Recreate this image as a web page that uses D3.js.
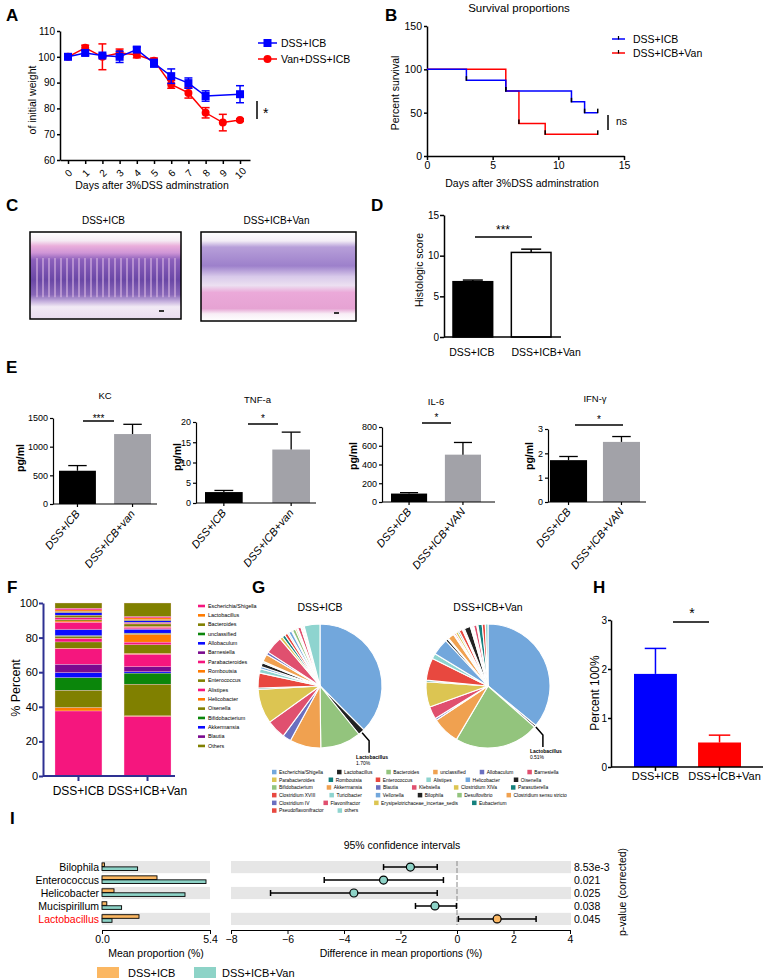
<!DOCTYPE html>
<html lang="en">
<head>
  <meta charset="UTF-8">
  <title>DSS+ICB with vancomycin</title>
  <style>
    body { margin: 0; background: #fff; }
    svg { display: block; }
  </style>
</head>
<body>
<div id="figure"></div>
<script src="https://d3js.org/d3.v7.min.js"></script>
<script>
// ---------- A: body weight ----------
const days = [0, 1, 2, 3, 4, 5, 6, 7, 8, 9, 10];
const weightIcb    = [100, 101.5, 100.5, 100, 102.8, 97.5, 92.5, 89.8, 84.8, null, 85.5];
const weightIcbErr = [0.5, 1, 0.5, 2.2, 1, 1.5, 2.8, 2, 2, null, 3.3];
const weightVan    = [100, 103.5, 100, 101.5, 100.8, 98.5, 89.3, 86, 78.3, 74.5, 75.5];
const weightVanErr = [0, 1, 5, 1.5, 1.2, 1, 1.5, 2, 2, 3.2, 0.5];
const weightTicks  = [60, 70, 80, 90, 100, 110];

// ---------- B: survival ----------
const survIcbTime = [0, 3, 6, 11, 12, 13];
const survIcb     = [100, 87.5, 75, 62.5, 50, 50];
const survVanTime = [0, 6, 7, 9, 13];
const survVan     = [100, 75, 37.5, 25, 25];
const survYTicks  = [0, 50, 100, 150];
const survXTicks  = [0, 5, 10, 15];

// ---------- C / D: histology ----------
const groups = ["DSS+ICB", "DSS+ICB+Van"];
const histoMean = [6.8, 10.4];
const histoErr  = [0.2, 0.4];
const histoTicks = [0, 5, 10, 15];

// ---------- E: cytokines ----------
const cytokines  = ["KC", "TNF-a", "IL-6", "IFN-\u03b3"];
const cytoGroups = [["DSS+ICB", "DSS+ICB+van"], ["DSS+ICB", "DSS+ICB+van"],
                    ["DSS+ICB", "DSS+ICB+VAN"], ["DSS+ICB", "DSS+ICB+VAN"]];
const cytoMean  = [[580, 1220], [2.7, 13.2], [90, 505], [1.72, 2.47]];
const cytoErr   = [[90, 170], [0.4, 4.3], [10, 130], [0.15, 0.22]];
const cytoTicks = [[0, 500, 1000, 1500], [0, 5, 10, 15, 20], [0, 200, 400, 600, 800], [0, 1, 2, 3]];
const cytoSig   = ["***", "*", "*", "*"];

// ---------- F: stacked genera ----------
const fGenera = ["Escherichia/Shigella", "Lactobacillus", "Bacteroides", "unclassified", "Allobaculum",
  "Barnesiella", "Parabacteroides", "Romboutsia", "Enterococcus", "Alistipes", "Helicobacter",
  "Oisenella", "Bifidobacterium", "Akkermansia", "Blautia", "Others"];
const fIcb = [37.6, 2.0, 10.0, 7.3, 2.9, 4.8, 8.9, 0.4, 3.6, 1.8, 0.4, 1.0, 0.5, 3.3, 0.4, 3.0];
const fVan = [34.5, 0.3, 18.3, 6.4, 0.8, 2.9, 7.2, 0.5, 5.0, 1.5, 4.5, 0.4, 0.3, 2.2, 0.3, 7.8];
// minor genera stacked between Blautia and Others (not named in the legend)
const fIcbMinor = [4.0, 0.7, 0.8, 1.2, 1.4, 1.5, 0.7, 0.8, 1.0];
const fVanMinor = [0.9, 0.4, 1.5, 0.5, 0.5, 0.9, 0.6, 1.0, 0.8];
const fTicks = [0, 20, 40, 60, 80, 100];

// ---------- G: pies ----------
const gGenera = ["Escherichia/Shigella", "Lactobacillus", "Bacteroides", "unclassified", "Allobaculum",
  "Barnesiella", "Parabacteroides", "Romboutsia", "Enterococcus", "Alistipes", "Helicobacter",
  "Oisenella", "Bifidobacterium", "Akkermansia", "Blautia", "Klebsiella", "Clostridium XIVa",
  "Parasutterella", "Clostridium XVIII", "Turicibacter", "Vellonella", "Bilophila", "Desulfovibrio",
  "Clostridium sensu stricto", "Clostridium IV", "Flavonifractor", "Erysipelotrichaceae_incertae_sedis",
  "Eubacterium", "Pseudoflavonifractor", "others"];
const pieIcb = [37.5, 1.70, 10.6, 8.1, 2.2, 5.0, 9.0, 0.4, 3.9, 1.1, 0.6, 1.0, 0.4, 2.0, 0.7, 4.6,
  0.8, 0.8, 0.8, 0.4, 0.8, 0.3, 0.8, 0.4, 0.3, 0.8, 0.3, 0.3, 0.3, 4.1];
const pieVan = [36.0, 0.51, 22.0, 7.2, 0.5, 3.3, 6.6, 0.4, 5.8, 1.4, 4.4, 0.6, 0.3, 1.6, 0.3, 0.4,
  0.6, 0.4, 0.9, 0.3, 0.3, 1.6, 0.3, 0.3, 0.3, 0.8, 0.3, 1.1, 0.8, 0.7];

// ---------- H: Lactobacillus ----------
const lactoMean = [1.9, 0.5];
const lactoErr  = [0.52, 0.15];
const lactoTicks = [0, 1, 2, 3];

// ---------- I: STAMP ----------
const taxa = ["Bilophila", "Enterococcus", "Helicobacter", "Mucispirillum", "Lactobacillus"];
const propIcb = [0.12, 2.75, 0.6, 0.24, 1.85];
const propVan = [1.78, 5.2, 4.15, 0.98, 0.5];
const diffMean = [-1.65, -2.6, -3.65, -0.78, 1.42];
const diffLo   = [-2.6, -4.7, -6.6, -1.47, 0.05];
const diffHi   = [-0.7, -0.48, -0.7, -0.02, 2.8];
const pValues  = ["8.53e-3", "0.021", "0.025", "0.038", "0.045"];
const diffTicks = [-8, -6, -4, -2, 0, 2, 4];

const FONT = "Arial, 'Liberation Sans', sans-serif";
const NARROW = "'Liberation Sans Narrow', 'Arial Narrow', Arial, sans-serif";
const BLUE = "#0000ff", RED = "#ff0000";
const plain = d => d;

const svg = d3.select("#figure").append("svg")
  .attr("width", 765).attr("height", 980)
  .attr("font-family", FONT);

function styleAxis(g, size, width, family, color) {
  const c = color || "#000";
  g.attr("font-family", null).attr("font-size", null);
  g.select(".domain").attr("stroke", c).attr("stroke-width", width);
  g.selectAll(".tick line").attr("stroke", c).attr("stroke-width", width);
  g.selectAll(".tick text").attr("fill", "#000")
    .style("font-size", size + "px").style("font-family", family || FONT);
}

function label(t, x, y, size, opts) {
  const o = opts || {};
  const el = svg.append("text").attr("x", x).attr("y", y)
    .attr("font-size", size).attr("text-anchor", o.anchor || "start")
    .attr("font-weight", o.weight || null)
    .attr("font-style", o.style || null)
    .attr("fill", o.fill || "#000")
    .text(t);
  if (o.family) el.attr("font-family", o.family);
  if (o.rotate) el.attr("transform", `rotate(${o.rotate},${x},${y})`);
  return el;
}

function panelLetter(t, x, y) { label(t, x, y, 17, { weight: "bold" }); }

// error bar: vertical from lo to hi with a cap at hi
function vErr(g, x, yLo, yHi, w, color, sw) {
  g.append("line").attr("x1", x).attr("x2", x).attr("y1", yLo).attr("y2", yHi)
    .attr("stroke", color).attr("stroke-width", sw);
  g.append("line").attr("x1", x - w / 2).attr("x2", x + w / 2).attr("y1", yHi).attr("y2", yHi)
    .attr("stroke", color).attr("stroke-width", sw);
}

// ================= A =================
{
  panelLetter("A", 6, 21);
  const x = d3.scaleLinear().domain([-0.465, 10.58]).range([60, 250]);
  const y = d3.scaleLinear().domain([60, 110]).range([160, 31]);
  const g = svg.append("g");
  g.append("g").attr("transform", "translate(60,0)")
    .call(d3.axisLeft(y).tickValues(weightTicks).tickSize(3).tickPadding(2).tickSizeOuter(0))
    .call(styleAxis, 10, 1.5);
  g.append("g").attr("transform", "translate(0,160)")
    .call(d3.axisBottom(x).tickValues(days).tickSize(4).tickSizeOuter(0))
    .call(styleAxis, 10, 1.5)
    .selectAll(".tick text")
    .attr("y", 0).attr("dy", "0.35em").attr("text-anchor", "middle")
    .attr("transform", "translate(0,13) rotate(-45)");

  const series = [
    { v: weightVan, e: weightVanErr, color: RED, shape: "circle" },
    { v: weightIcb, e: weightIcbErr, color: BLUE, shape: "square" }
  ];
  const line = d3.line().x(d => x(d.day)).y(d => y(d.v));
  series.forEach(s => {
    const pts = days.map((d, i) => ({ day: d, v: s.v[i], e: s.e[i] })).filter(p => p.v != null);
    g.append("path").attr("d", line(pts)).attr("fill", "none")
      .attr("stroke", s.color).attr("stroke-width", 1.5);
    pts.forEach(p => {
      if (p.e > 0) {
        vErr(g, x(p.day), y(p.v), y(p.v + p.e), 8, s.color, 1.5);
        vErr(g, x(p.day), y(p.v), y(p.v - p.e), 8, s.color, 1.5);
      }
    });
    if (s.shape === "circle") {
      g.selectAll(null).data(pts).join("circle")
        .attr("cx", p => x(p.day)).attr("cy", p => y(p.v)).attr("r", 4).attr("fill", s.color);
    } else {
      g.selectAll(null).data(pts).join("rect")
        .attr("x", p => x(p.day) - 4).attr("y", p => y(p.v) - 4)
        .attr("width", 8).attr("height", 8).attr("fill", s.color);
    }
  });
  // legend
  [["DSS+ICB", BLUE, "square", 43], ["Van+DSS+ICB", RED, "circle", 59]].forEach(([t, c, sh, ly]) => {
    g.append("line").attr("x1", 258).attr("x2", 277).attr("y1", ly).attr("y2", ly)
      .attr("stroke", c).attr("stroke-width", 1.5);
    if (sh === "square") g.append("rect").attr("x", 263.5).attr("y", ly - 4).attr("width", 8).attr("height", 8).attr("fill", c);
    else g.append("circle").attr("cx", 267.5).attr("cy", ly).attr("r", 4).attr("fill", c);
    label(t, 281, ly + 4, 10.5);
  });
  g.append("line").attr("x1", 257).attr("x2", 257).attr("y1", 101).attr("y2", 119)
    .attr("stroke", "#000").attr("stroke-width", 1.5);
  label("*", 263, 118, 14);
  label("of initial weight", 36, 100, 10.5, { anchor: "middle", rotate: -90 });
  label("Days after 3%DSS adminstration", 152, 189, 10.5, { anchor: "middle" });
}

// ================= B =================
{
  panelLetter("B", 385, 21);
  const x = d3.scaleLinear().domain([0, 15]).range([427, 624]);
  const y = d3.scaleLinear().domain([0, 150]).range([156, 26]);
  const g = svg.append("g");
  g.append("g").attr("transform", "translate(427,0)")
    .call(d3.axisLeft(y).tickValues(survYTicks).tickSize(3).tickPadding(2).tickSizeOuter(0))
    .call(styleAxis, 10.5, 1.5);
  g.append("g").attr("transform", "translate(0,156)")
    .call(d3.axisBottom(x).tickValues(survXTicks).tickSize(4).tickPadding(2).tickSizeOuter(0))
    .call(styleAxis, 10.5, 1.5);

  const step = d3.line().curve(d3.curveStepAfter).x(d => x(d[0])).y(d => y(d[1]));
  [[survVanTime, survVan, RED], [survIcbTime, survIcb, BLUE]].forEach(([t, v, c]) => {
    const pts = t.map((d, i) => [d, v[i]]);
    g.append("path").attr("d", step(pts)).attr("fill", "none").attr("stroke", c).attr("stroke-width", 1.5);
    pts.slice(1).forEach(p => {
      g.append("line").attr("x1", x(p[0])).attr("x2", x(p[0])).attr("y1", y(p[1]) + 0.5).attr("y2", y(p[1]) - 4)
        .attr("stroke", "#000").attr("stroke-width", 1.5);
    });
  });
  [["DSS+ICB", BLUE, 39], ["DSS+ICB+Van", RED, 53]].forEach(([t, c, ly]) => {
    g.append("line").attr("x1", 612).attr("x2", 625).attr("y1", ly).attr("y2", ly).attr("stroke", c).attr("stroke-width", 1.5);
    g.append("line").attr("x1", 618.5).attr("x2", 618.5).attr("y1", ly - 3).attr("y2", ly + 0.5).attr("stroke", "#000").attr("stroke-width", 1.2);
    label(t, 633, ly + 4, 10.5);
  });
  g.append("line").attr("x1", 608).attr("x2", 608).attr("y1", 115).attr("y2", 130)
    .attr("stroke", "#000").attr("stroke-width", 1.5);
  label("ns", 616, 125, 10.5);
  label("Survival proportions", 519, 12, 11.5, { anchor: "middle" });
  label("Percent survival", 399, 93, 10.5, { anchor: "middle", rotate: -90 });
  label("Days after 3%DSS adminstration", 522, 187, 10.5, { anchor: "middle" });
}

// ================= C (micrographs) =================
{
  panelLetter("C", 6, 211);
  const defs = svg.append("defs");
  const g1 = defs.append("linearGradient").attr("id", "histo1").attr("x1", 0).attr("x2", 0).attr("y1", 0).attr("y2", 1);
  [[0, "#ffffff"], [0.1, "#f5eaf3"], [0.16, "#eaaedb"], [0.24, "#cf95d6"], [0.32, "#8b5fbb"],
   [0.55, "#6a47a6"], [0.72, "#8867b8"], [0.8, "#c7b2de"], [0.86, "#f2eaf5"], [1, "#e9dcef"]]
    .forEach(([o, c]) => g1.append("stop").attr("offset", o).attr("stop-color", c));
  const g2 = defs.append("linearGradient").attr("id", "histo2").attr("x1", 0).attr("x2", 0).attr("y1", 0).attr("y2", 1);
  [[0, "#ffffff"], [0.1, "#f3edf6"], [0.17, "#b79fd9"], [0.38, "#9d80cb"], [0.5, "#d8c9ea"],
   [0.6, "#ece0f1"], [0.68, "#eba9d9"], [0.86, "#e6a3d3"], [0.92, "#f8eef6"], [1, "#ffffff"]]
    .forEach(([o, c]) => g2.append("stop").attr("offset", o).attr("stop-color", c));
  const crypts = defs.append("pattern").attr("id", "crypts").attr("width", 6).attr("height", 40)
    .attr("patternUnits", "userSpaceOnUse");
  crypts.append("rect").attr("x", 0).attr("width", 2).attr("height", 40).attr("fill", "#e8c6ea").attr("opacity", 0.5);

  const boxes = [[30, 232, 151, 87, "histo1", "DSS+ICB"], [201, 232, 155, 89, "histo2", "DSS+ICB+Van"]];
  boxes.forEach(([bx, by, bw, bh, grad, t]) => {
    svg.append("rect").attr("x", bx).attr("y", by).attr("width", bw).attr("height", bh).attr("fill", `url(#${grad})`);
    if (grad === "histo1") {
      svg.append("rect").attr("x", bx + 2).attr("y", by + bh * 0.3).attr("width", bw - 4).attr("height", bh * 0.45)
        .attr("fill", "url(#crypts)");
    }
    svg.append("rect").attr("x", bx).attr("y", by).attr("width", bw).attr("height", bh)
      .attr("fill", "none").attr("stroke", "#000").attr("stroke-width", 1.5);
    svg.append("rect").attr("x", bx + bw - 22).attr("y", by + bh - 9).attr("width", 5).attr("height", 2).attr("fill", "#333");
    label(t, bx + bw / 2 - 2, 224, 10, { anchor: "middle", family: NARROW });
  });
}

// ================= D =================
{
  panelLetter("D", 371, 211);
  const y = d3.scaleLinear().domain([0, 15]).range([337, 215]);
  const x = d3.scaleBand().domain(groups).range([453, 551]).paddingInner(0.32);
  const g = svg.append("g");
  g.selectAll(null).data(groups).join("rect")
    .attr("x", d => x(d)).attr("width", x.bandwidth())
    .attr("y", (d, i) => y(histoMean[i])).attr("height", (d, i) => y(0) - y(histoMean[i]))
    .attr("fill", (d, i) => i ? "#fff" : "#000").attr("stroke", "#000").attr("stroke-width", 1.5);
  groups.forEach((d, i) => vErr(g, x(d) + x.bandwidth() / 2, y(histoMean[i]), y(histoMean[i] + histoErr[i]), 20, "#000", 1.5));
  g.append("g").attr("transform", "translate(444,0)")
    .call(d3.axisLeft(y).tickValues(histoTicks).tickFormat(plain).tickSize(4).tickPadding(1).tickSizeOuter(0))
    .call(styleAxis, 10, 1.5, NARROW);
  g.append("line").attr("x1", 444).attr("x2", 561).attr("y1", 337).attr("y2", 337).attr("stroke", "#000").attr("stroke-width", 1.5);
  groups.forEach((d, i) => label(d, x(d) + x.bandwidth() / 2 + (i ? 15 : -1), 356, 10.5, { anchor: "middle", family: NARROW }));
  g.append("line").attr("x1", 475).attr("x2", 532).attr("y1", 237).attr("y2", 237).attr("stroke", "#000").attr("stroke-width", 1.5);
  label("***", 503, 234, 12, { anchor: "middle" });
  label("Histologic score", 423, 270, 10.5, { anchor: "middle", rotate: -90, family: NARROW });
}

// ================= E =================
{
  panelLetter("E", 6, 373);
  const layout = [
    { ax: 53,  right: 157, b0: 59,  b1: 151, pad: 0.33, y0: 504, yTop: 418, titleY: 399, sig: [83, 114],  sigY: 421, ylab: 24 },
    { ax: 196, right: 316, b0: 205, b1: 310, pad: 0.44, y0: 503, yTop: 422, titleY: 403, sig: [248, 278], sigY: 424, ylab: 181 },
    { ax: 382, right: 495, b0: 391, b1: 481, pad: 0.33, y0: 502, yTop: 427, titleY: 405, sig: [422, 451], sigY: 423, ylab: 357 },
    { ax: 548, right: 646, b0: 550, b1: 640, pad: 0.30, y0: 502, yTop: 429, titleY: 402, sig: [575, 623], sigY: 425, ylab: 533 }
  ];
  cytokines.forEach((name, k) => {
    const L = layout[k];
    const ticks = cytoTicks[k];
    const y = d3.scaleLinear().domain([0, ticks[ticks.length - 1]]).range([L.y0, L.yTop]);
    const x = d3.scaleBand().domain(cytoGroups[k]).range([L.b0, L.b1]).paddingInner(L.pad);
    const g = svg.append("g");
    g.selectAll(null).data(cytoGroups[k]).join("rect")
      .attr("x", d => x(d)).attr("width", x.bandwidth())
      .attr("y", (d, i) => y(cytoMean[k][i])).attr("height", (d, i) => L.y0 - y(cytoMean[k][i]))
      .attr("fill", (d, i) => i ? "#a2a2a8" : "#000");
    cytoGroups[k].forEach((d, i) => vErr(g, x(d) + x.bandwidth() / 2, y(cytoMean[k][i]),
      y(cytoMean[k][i] + cytoErr[k][i]), x.bandwidth() / 2, "#000", 1.3));
    g.append("g").attr("transform", `translate(${L.ax},0)`)
      .call(d3.axisLeft(y).tickValues(ticks).tickFormat(plain).tickSize(3).tickPadding(2).tickSizeOuter(0))
      .call(styleAxis, 9, 1.2, NARROW);
    g.append("line").attr("x1", L.ax).attr("x2", L.right).attr("y1", L.y0).attr("y2", L.y0)
      .attr("stroke", "#000").attr("stroke-width", 1.2);
    cytoGroups[k].forEach(d => {
      const cx = x(d) + x.bandwidth() / 2;
      g.append("line").attr("x1", cx).attr("x2", cx).attr("y1", L.y0).attr("y2", L.y0 + 3)
        .attr("stroke", "#000").attr("stroke-width", 1.2);
      label(d, cx + 3, L.y0 + 10, 11, { anchor: "end", style: "italic", rotate: -50, family: NARROW });
    });
    g.append("line").attr("x1", L.sig[0]).attr("x2", L.sig[1]).attr("y1", L.sigY).attr("y2", L.sigY)
      .attr("stroke", "#000").attr("stroke-width", 1.5);
    label(cytoSig[k], (L.sig[0] + L.sig[1]) / 2, L.sigY - (k ? 2 : -1), 10, { anchor: "middle" });
    label(name, (L.b0 + L.b1) / 2, L.titleY, 9.5, { anchor: "middle", family: NARROW });
    label("pg/ml", L.ylab, L.y0 - 46, 10.5, { anchor: "middle", rotate: -90, weight: "bold", family: NARROW });
  });
}

// ================= F =================
{
  panelLetter("F", 7, 593);
  const NAVY = "#2e3192";
  const pink = "#f5167e", orange = "#ff7b00", olive = "#808000", green = "#0b860b", blue = "#0a0aff", purple = "#7b0a8f";
  const fColors = [pink, orange, olive, green, blue, purple, pink, orange, olive, pink, orange, olive, green, blue, purple, olive];
  const fMinorColors = [pink, orange, olive, pink, olive, blue, olive, orange, pink];
  const keys = d3.range(15).map(i => "g" + i).concat(fIcbMinor.map((d, i) => "m" + i), ["g15"]);
  const rows = [[fIcb, fIcbMinor], [fVan, fVanMinor]].map(([main, minor], gi) => {
    const r = { group: groups[gi] };
    main.forEach((v, i) => { r["g" + i] = v; });
    minor.forEach((v, i) => { r["m" + i] = v; });
    return r;
  });
  const colorOf = k => k[0] === "g" ? fColors[+k.slice(1)] : fMinorColors[+k.slice(1)];
  const stacked = d3.stack().keys(keys)(rows);
  const y = d3.scaleLinear().domain([0, 100]).range([776, 603]);
  const x = d3.scaleBand().domain(groups).range([55, 171]).paddingInner(0.32);
  const g = svg.append("g");
  g.selectAll("g.layer").data(stacked).join("g").attr("class", "layer")
    .attr("fill", d => colorOf(d.key))
    .selectAll("rect").data(d => d).join("rect")
    .attr("x", d => x(d.data.group)).attr("width", x.bandwidth())
    .attr("y", d => y(d[1])).attr("height", d => y(d[0]) - y(d[1]))
    .attr("stroke", "#fbd3e6").attr("stroke-width", 0.3);
  g.append("g").attr("transform", "translate(43,0)")
    .call(d3.axisLeft(y).tickValues(fTicks).tickSize(4).tickPadding(1).tickSizeOuter(0))
    .call(styleAxis, 11, 2, FONT, NAVY);
  const xAxis = g.append("g").attr("transform", "translate(0,776)")
    .call(d3.axisBottom(x).tickSize(5).tickSizeOuter(0).tickFormat(""))
    .call(styleAxis, 11, 2, FONT, NAVY);
  xAxis.select(".domain").attr("d", "M43,0H175");
  groups.forEach(d => label(d, x(d) + x.bandwidth() / 2, 795, 12, { anchor: "middle" }));
  label("% Percent", 20, 688, 12.5, { anchor: "middle", rotate: -90 });
  // legend
  fGenera.forEach((name, i) => {
    const ly = 606 + i * 9.33;
    g.append("rect").attr("x", 198).attr("y", ly - 1.3).attr("width", 7).attr("height", 2.6).attr("fill", fColors[i]);
    label(name, 208, ly + 1.8, 5.4, { family: NARROW });
  });
}

// ================= G =================
{
  panelLetter("G", 252, 593);
  const gColors = ["#72a7dc", "#222222", "#93c47d", "#f0a150", "#6a6fc0",
                   "#e0506f", "#dcc552", "#14807d", "#e8483f", "#8ed4cf"];
  const R = 62;
  const pie = d3.pie().sort(null).value(d => d);
  const arc = d3.arc().innerRadius(0).outerRadius(R);
  [[pieIcb, 320, groups[0]], [pieVan, 488, groups[1]]].forEach(([vals, cx, title]) => {
    const arcs = pie(vals);
    const g = svg.append("g").attr("transform", `translate(${cx},686)`);
    g.selectAll("path").data(arcs).join("path")
      .attr("d", arc).attr("fill", (d, i) => gColors[i % gColors.length])
      .attr("stroke", "#fff").attr("stroke-width", 1.1).attr("stroke-linejoin", "round");
    label(title, cx, 611, 10.5, { anchor: "middle" });
    // Lactobacillus call-out
    const a = arcs[1];
    const mid = (a.startAngle + a.endAngle) / 2;
    const sx = cx + Math.sin(mid) * (R + 1), sy = 686 - Math.cos(mid) * (R + 1);
    const bx = sx + 7, by = sy + 8, ey = by + 12;
    svg.append("path").attr("d", `M${sx},${sy}L${bx},${by}L${bx},${ey}`)
      .attr("fill", "none").attr("stroke", "#000").attr("stroke-width", 1.5);
    label(gGenera[1], bx - 13, ey + 6, 5, { weight: "bold" });
    label(vals[1].toFixed(2) + "%", bx - 13, ey + 12, 5);
  });
  // legend, flowed in rows
  const rowSizes = [6, 6, 6, 6, 4, 2];
  let idx = 0;
  rowSizes.forEach((n, r) => {
    let lx = 272;
    const ly = 772 + r * 7.7;
    for (let j = 0; j < n; j++, idx++) {
      svg.append("rect").attr("x", lx).attr("y", ly - 2.2).attr("width", 4.5).attr("height", 4.5)
        .attr("fill", gColors[idx % gColors.length]);
      const t = label(gGenera[idx], lx + 7, ly + 1.8, 4.9);
      lx += 7 + t.node().getComputedTextLength() + 14;
    }
  });
}

// ================= H =================
{
  panelLetter("H", 593, 593);
  const y = d3.scaleLinear().domain([0, 3]).range([767, 620]);
  const x = d3.scaleBand().domain(groups).range([634, 741]).paddingInner(0.33);
  const g = svg.append("g");
  const colors = [BLUE, RED];
  g.selectAll(null).data(groups).join("rect")
    .attr("x", d => x(d)).attr("width", x.bandwidth())
    .attr("y", (d, i) => y(lactoMean[i])).attr("height", (d, i) => y(0) - y(lactoMean[i]))
    .attr("fill", (d, i) => colors[i]);
  groups.forEach((d, i) => vErr(g, x(d) + x.bandwidth() / 2, y(lactoMean[i]), y(lactoMean[i] + lactoErr[i]),
    x.bandwidth() / 2, colors[i], 1.5));
  g.append("g").attr("transform", "translate(611,0)")
    .call(d3.axisLeft(y).tickValues(lactoTicks).tickFormat(plain).tickSize(3).tickPadding(1).tickSizeOuter(0))
    .call(styleAxis, 10, 1.5, NARROW);
  const xAxis = g.append("g").attr("transform", "translate(0,767)")
    .call(d3.axisBottom(x).tickSize(4).tickSizeOuter(0).tickFormat(""))
    .call(styleAxis, 10, 1.5);
  xAxis.select(".domain").attr("d", "M611,0H763");
  groups.forEach((d, i) => label(d, x(d) + x.bandwidth() / 2 + (i ? 5 : 0), 780, 11, { anchor: "middle" }));
  g.append("line").attr("x1", 673).attr("x2", 709).attr("y1", 622).attr("y2", 622).attr("stroke", "#000").attr("stroke-width", 1.5);
  label("*", 692, 618, 14, { anchor: "middle" });
  label("Percent 100%", 599, 693, 12, { anchor: "middle", rotate: -90 });
}

// ================= I =================
{
  label("I", 10, 824, 17, { weight: "bold" });
  const ORANGE = "#fbb762", TEAL = "#8dd3c7";
  const rows = d3.scaleBand().domain(taxa).range([861, 925]).paddingInner(0.06);
  const xl = d3.scaleLinear().domain([0, 5.4]).range([102, 210]);
  const xr = d3.scaleLinear().domain([-8, 4]).range([231, 570]);
  const g = svg.append("g");
  taxa.forEach((t, i) => {
    if (i % 2 === 0) {
      g.append("rect").attr("x", 102).attr("width", 108).attr("y", rows(t)).attr("height", rows.bandwidth()).attr("fill", "#e6e6e6");
      g.append("rect").attr("x", 231).attr("width", 340).attr("y", rows(t)).attr("height", rows.bandwidth()).attr("fill", "#e6e6e6");
    }
  });
  g.append("line").attr("x1", xr(0)).attr("x2", xr(0)).attr("y1", 861).attr("y2", 925)
    .attr("stroke", "#888").attr("stroke-width", 1).attr("stroke-dasharray", "5,2");
  taxa.forEach((t, i) => {
    const cy = rows(t) + rows.bandwidth() / 2;
    g.append("rect").attr("x", xl(0)).attr("y", cy - 4.2).attr("width", xl(propIcb[i]) - xl(0)).attr("height", 3.6)
      .attr("fill", ORANGE).attr("stroke", "#000").attr("stroke-width", 0.9);
    g.append("rect").attr("x", xl(0)).attr("y", cy - 0.2).attr("width", xl(propVan[i]) - xl(0)).attr("height", 3.6)
      .attr("fill", TEAL).attr("stroke", "#000").attr("stroke-width", 0.9);
    g.append("line").attr("x1", xr(diffLo[i])).attr("x2", xr(diffHi[i])).attr("y1", cy).attr("y2", cy)
      .attr("stroke", "#000").attr("stroke-width", 1.5);
    [diffLo[i], diffHi[i]].forEach(v => g.append("line").attr("x1", xr(v)).attr("x2", xr(v))
      .attr("y1", cy - 3).attr("y2", cy + 3).attr("stroke", "#000").attr("stroke-width", 1.5));
    g.append("circle").attr("cx", xr(diffMean[i])).attr("cy", cy).attr("r", 4)
      .attr("fill", diffMean[i] > 0 ? ORANGE : TEAL).attr("stroke", "#000").attr("stroke-width", 1.2);
    label(t, 99, cy + 4, 10.5, { anchor: "end", fill: t === "Lactobacillus" ? RED : "#000" });
    label(pValues[i], 574, cy + 4, 10.5);
  });
  g.append("g").attr("transform", "translate(0,930)")
    .call(d3.axisBottom(xl).tickValues([0, 5.4]).tickFormat(d3.format(".1f")).tickSize(4).tickPadding(2).tickSizeOuter(0))
    .call(styleAxis, 10.5, 1);
  g.append("g").attr("transform", "translate(0,930)")
    .call(d3.axisBottom(xr).tickValues(diffTicks).tickFormat(d => d < 0 ? "\u2212" + Math.abs(d) : d).tickSize(4).tickPadding(2).tickSizeOuter(0))
    .call(styleAxis, 10.5, 1);
  label("95% confidence intervals", 402, 849, 10.5, { anchor: "middle" });
  label("Mean proportion (%)", 156, 957, 10.5, { anchor: "middle" });
  label("Difference in mean proportions (%)", 401, 957, 10.5, { anchor: "middle" });
  label("p-value (corrected)", 626, 892, 10.5, { anchor: "middle", rotate: -90 });
  [[97, ORANGE, "DSS+ICB", 128], [194, TEAL, "DSS+ICB+Van", 222]].forEach(([rx, c, t, tx]) => {
    g.append("rect").attr("x", rx).attr("y", 967).attr("width", 22).attr("height", 11).attr("fill", c);
    label(t, tx, 977, 11);
  });
}
</script>
</body>
</html>
